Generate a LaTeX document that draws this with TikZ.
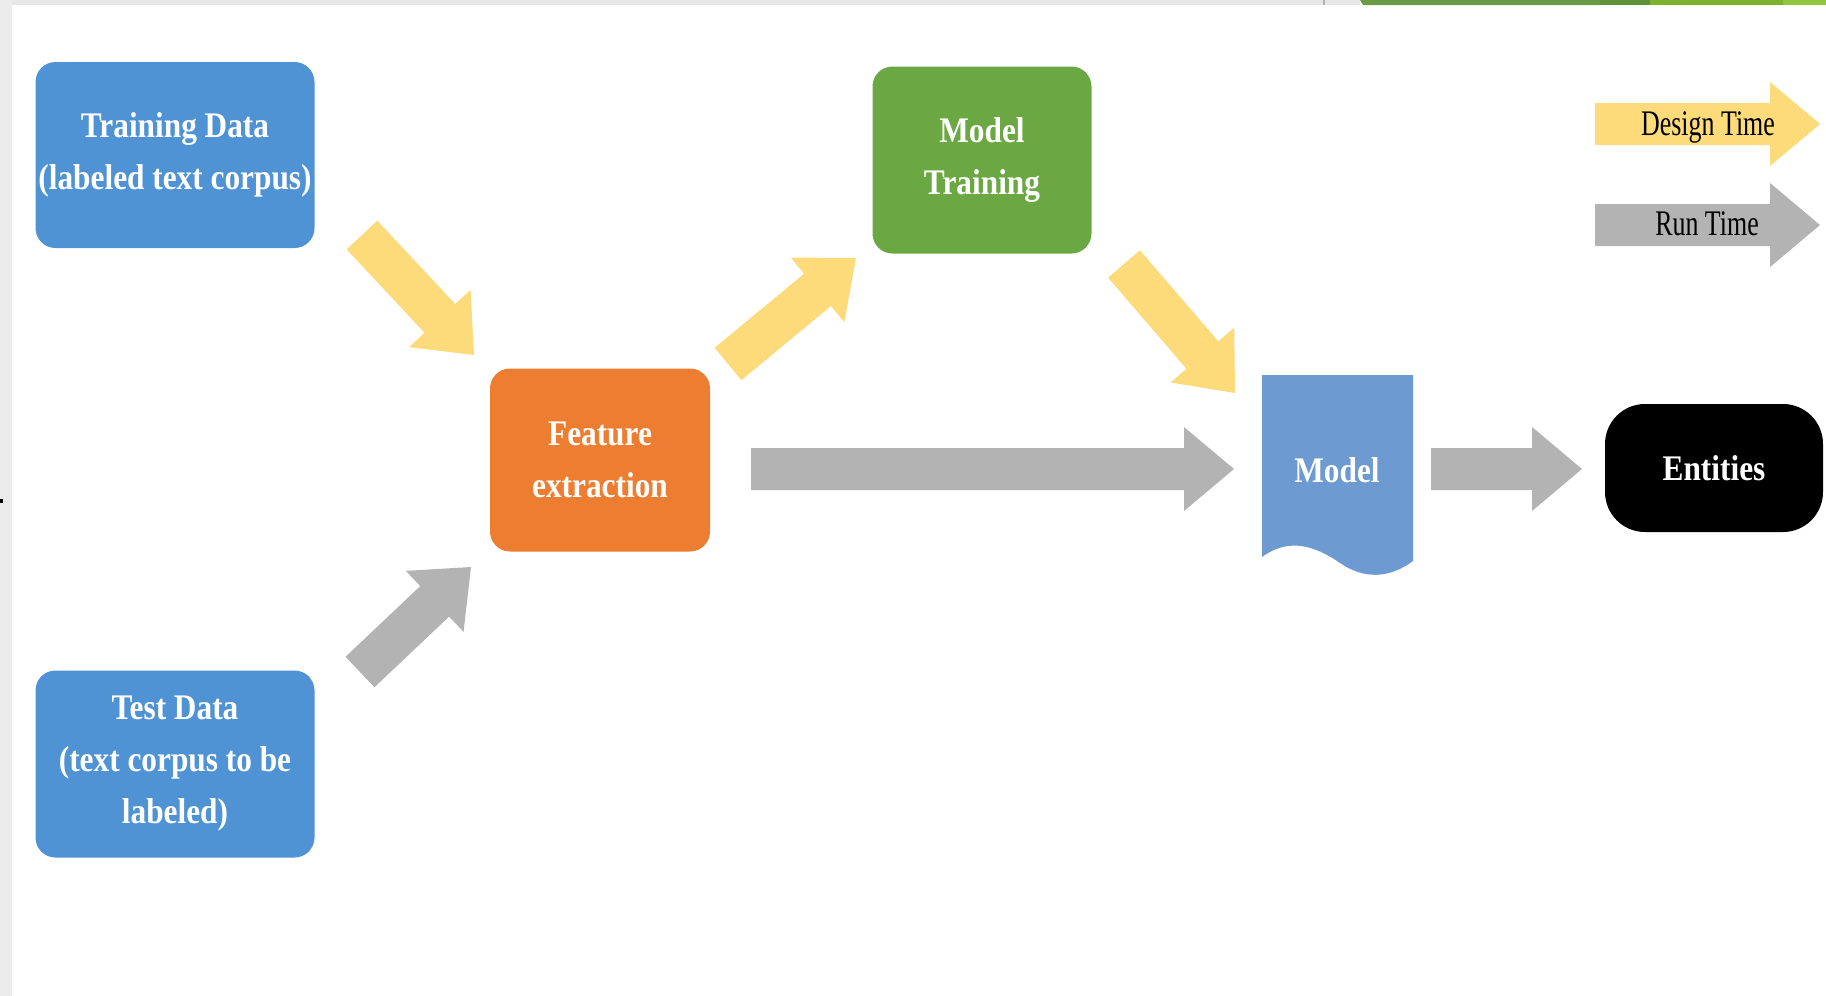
\documentclass[tikz,border=0pt]{standalone}
\usepackage{fontspec}
\newfontfamily\boxfont[FakeStretch=0.87]{Liberation Serif}
\newfontfamily\legendfont[FakeStretch=0.72]{Liberation Serif}
\usetikzlibrary{calc}

\definecolor{panelgray}{HTML}{EBEBEB}
\definecolor{topgray}{HTML}{E6E6E6}
\definecolor{databox}{HTML}{4F93D5}
\definecolor{modelbox}{HTML}{6C9AD1}
\definecolor{featbox}{HTML}{ED7D31}
\definecolor{trainbox}{HTML}{6BA843}
\definecolor{designarrow}{HTML}{FDDA7A}
\definecolor{runarrow}{HTML}{B3B3B3}
\definecolor{barA}{HTML}{6B9B48}
\definecolor{barB}{HTML}{5F9139}
\definecolor{barC}{HTML}{7EB12F}
\definecolor{barD}{HTML}{90C641}

% block arrow: #1 fill style, #2 tail coordinate, #3 tip coordinate
\newcommand\blockarrow[3]{%
  \coordinate (#2-hb) at ($(#3)!25pt!(#2)$);
  \fill[#1] ($(#2)!10.5pt!90:(#3)$) -- ($(#2-hb)!10.5pt!90:(#3)$)
    -- ($(#2-hb)!21pt!90:(#3)$) -- (#3)
    -- ($(#2-hb)!21pt!-90:(#3)$) -- ($(#2-hb)!10.5pt!-90:(#3)$)
    -- ($(#2)!10.5pt!-90:(#3)$) -- cycle;
}

\tikzset{
  stagebox/.style={rounded corners=10pt, inner sep=0pt, align=center,
    text=white, font=\boxfont\bfseries\fontsize{18}{26}\selectfont},
  legendtext/.style={inner sep=0pt, anchor=base, text=black,
    font=\legendfont\fontsize{18}{22}\selectfont},
}

\begin{document}
\begin{tikzpicture}[x=0.5pt, y=-0.5pt]
  \useasboundingbox (0,0) rectangle (1826,996);
  % page background and frame strips
  \fill[white] (0,0) rectangle (1826,996);
  \fill[panelgray] (0,0) rectangle (12,996);
  \fill[topgray] (12,0) rectangle (1360,5);
  \fill[black] (0,499) rectangle (3,503);
  \draw[gray!60, line width=0.6pt] (1324,0) -- (1324,5);
  \fill[barA] (1360,0) -- (1600,0) -- (1600,5) -- (1363,5) -- cycle;
  \fill[barB] (1600,0) rectangle (1650,5);
  \fill[barC] (1650,0) rectangle (1783,5);
  \fill[barD] (1783,0) rectangle (1826,5);

  % stages
  \node[stagebox, fill=databox, minimum width=139.5pt, minimum height=93pt]
    (train) at (175,155) {Training Data\\(labeled text corpus)};
  \node[stagebox, fill=databox, minimum width=139.5pt, minimum height=93.5pt]
    (test) at (175,764) {Test Data\\(text corpus to be\\labeled)};
  \node[stagebox, fill=featbox, minimum width=110pt, minimum height=91.5pt]
    (feat) at (600,460) {Feature\\extraction};
  \node[stagebox, fill=trainbox, minimum width=109.5pt, minimum height=93.5pt]
    (mtrain) at (982,160) {Model\\Training};

  % model document shape
  \fill[modelbox] (1262,375) -- (1413,375) -- (1413,561)
    .. controls (1390,578) and (1365,580) .. (1340,563)
    .. controls (1310,542) and (1285,540) .. (1262,557) -- cycle;
  \node[stagebox] (model) at (1337,470) {Model};

  \node[stagebox, fill=black, rounded corners=20pt, minimum width=109pt,
    minimum height=64pt] (ent) at (1714,468) {Entities};

  % arrow end points
  \coordinate (y1s) at (362,235);  \coordinate (y1e) at (474,355);
  \coordinate (y2s) at (728,364);  \coordinate (y2e) at (856,258);
  \coordinate (y3s) at (1124,264); \coordinate (y3e) at (1235,393);
  \coordinate (g1s) at (360,672);  \coordinate (g1e) at (471,567);
  \coordinate (g2s) at (751,469);  \coordinate (g2e) at (1234,469);
  \coordinate (g3s) at (1431,469); \coordinate (g3e) at (1582,469);
  \coordinate (lds) at (1595,124); \coordinate (lde) at (1820,124);
  \coordinate (lrs) at (1595,225); \coordinate (lre) at (1820,225);

  % design-time flow
  \blockarrow{designarrow}{y1s}{y1e}
  \blockarrow{designarrow}{y2s}{y2e}
  \blockarrow{designarrow}{y3s}{y3e}
  % run-time flow
  \blockarrow{runarrow}{g1s}{g1e}
  \blockarrow{runarrow}{g2s}{g2e}
  \blockarrow{runarrow}{g3s}{g3e}

  % legend
  \blockarrow{designarrow}{lds}{lde}
  \blockarrow{runarrow}{lrs}{lre}
  \node[legendtext] (ldt) at (1708,135) {Design Time};
  \node[legendtext] (lrt) at (1707,235) {Run Time};
\end{tikzpicture}
\end{document}
